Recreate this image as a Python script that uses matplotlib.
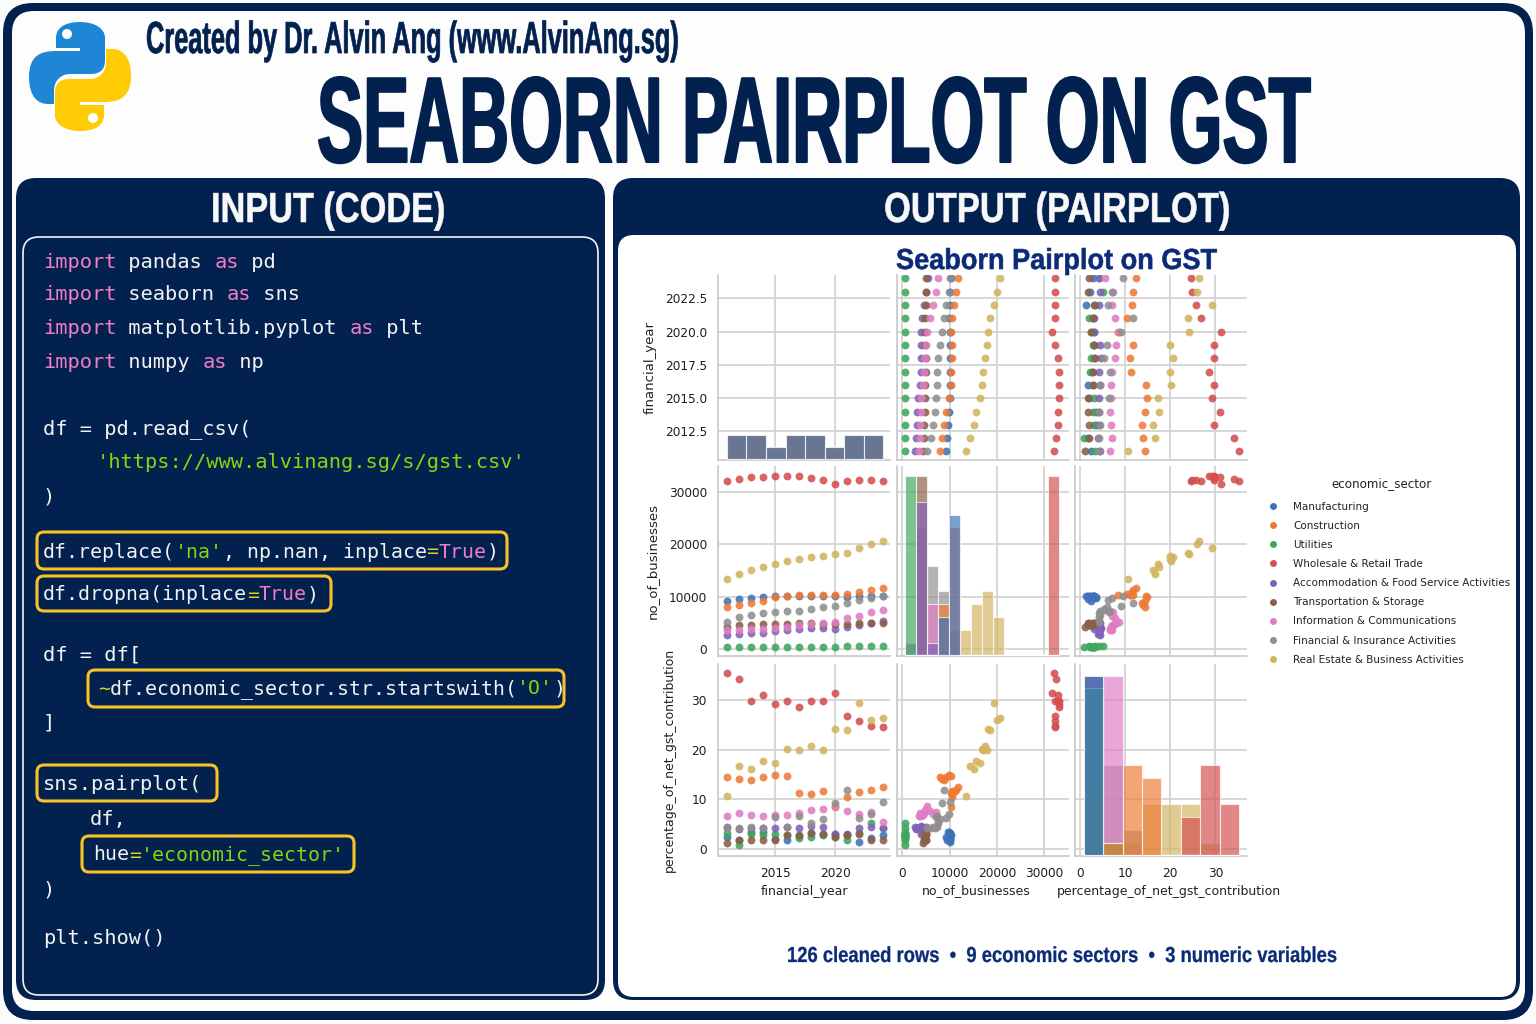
import numpy as np
import matplotlib
matplotlib.use("Agg")
import matplotlib.pyplot as plt
from matplotlib.patches import FancyBboxPatch, PathPatch, Circle
from matplotlib.path import Path
from matplotlib.patheffects import AbstractPathEffect
from matplotlib.transforms import Affine2D
from matplotlib.lines import Line2D

W, H = 1536, 1024
NAVY = "#03214f"

years = list(range(2011, 2025))
sectors = ["Manufacturing", "Construction", "Utilities", "Wholesale & Retail Trade",
           "Accommodation & Food Service Activities", "Transportation & Storage",
           "Information & Communications", "Financial & Insurance Activities",
           "Real Estate & Business Activities"]
colors = ["#3d72b8", "#ee7a35", "#3fa65a", "#d34f50", "#8062b8", "#8a5f45", "#e07cc4", "#8f8f8f", "#d2b45f"]

businesses = [
    [9100, 9490, 9680, 9940, 10060, 10060, 10060, 10060, 10060, 10060, 9940, 10060, 10120, 10190],
    [8030, 8340, 8730, 9240, 9940, 10190, 10320, 10380, 10380, 10320, 10570, 10960, 11270, 11720],
    [440, 440, 450, 450, 450, 450, 450, 450, 460, 450, 500, 500, 500, 560],
    [32040, 32420, 32870, 32870, 33180, 33060, 33000, 32800, 32290, 31650, 32160, 32290, 32230, 32160],
    [2610, 2800, 3000, 3120, 3370, 3630, 3820, 3950, 4010, 3820, 4200, 4500, 4900, 5300],
    [4300, 4500, 4600, 4700, 4800, 4800, 4900, 4900, 4800, 4800, 4700, 4900, 5000, 5000],
    [3600, 3700, 3800, 3900, 4000, 4300, 4500, 4700, 5000, 5100, 5860, 6370, 7000, 7450],
    [5220, 6050, 6560, 6820, 7070, 7200, 7320, 7580, 7960, 8280, 8730, 9300, 9800, 10060],
    [13380, 14270, 15160, 15600, 16310, 16780, 17130, 17520, 17830, 18090, 18410, 19360, 20000, 20700],
]
gst_share = [
    [2.5, 1.8, 3.5, 3.5, 2.0, 1.8, 2.7, 3.2, 3.1, 3.1, 2.8, 1.4, 2.3, 2.8],
    [14.4, 14.0, 13.8, 14.4, 14.8, 14.6, 11.3, 11.0, 11.7, 8.5, 10.5, 11.5, 11.8, 12.4],
    [3.3, 0.8, 3.1, 2.9, 3.0, 2.8, 2.2, 2.4, 2.9, 2.4, 1.9, 3.3, 5.15, 4.3],
    [35.3, 34.2, 29.8, 31.0, 29.2, 29.7, 28.6, 29.7, 29.7, 31.3, 26.7, 25.7, 24.8, 24.5],
    [4.4, 4.1, 4.2, 4.2, 4.3, 4.4, 4.3, 4.6, 4.5, 3.0, 3.0, 4.3, 4.5, 4.3],
    [1.2, 1.9, 1.9, 1.8, 1.8, 2.8, 2.9, 3.3, 3.0, 2.4, 2.9, 3.1, 1.8, 1.9],
    [6.7, 7.2, 6.9, 6.6, 6.8, 6.8, 7.2, 7.8, 8.0, 8.6, 7.7, 7.1, 7.4, 5.5],
    [4.3, 4.3, 4.5, 4.2, 6.4, 4.5, 6.7, 5.3, 6.0, 9.2, 11.8, 6.2, 7.0, 9.45],
    [10.6, 16.7, 16.1, 17.6, 17.2, 20.2, 20.0, 20.7, 19.9, 24.1, 23.9, 29.3, 26.0, 26.3],
]
var_names = ["financial_year", "no_of_businesses", "percentage_of_net_gst_contribution"]
hist_bins = [8, 14, 8]

WIDE, TIGHT = 12.25, 11.98
code_lines = [
    (262, 43, WIDE, [("import", "k"), (" pandas ", "t"), ("as", "k"), (" pd", "t")]),
    (295, 43, WIDE, [("import", "k"), (" seaborn ", "t"), ("as", "k"), (" sns", "t")]),
    (329, 43, WIDE, [("import", "k"), (" matplotlib.pyplot ", "t"), ("as", "k"), (" plt", "t")]),
    (363, 43, WIDE, [("import", "k"), (" numpy ", "t"), ("as", "k"), (" np", "t")]),
    (429, 43, WIDE, [("df = pd.read_csv(", "t")]),
    (463, 97, WIDE, [("'https://www.alvinang.sg/s/gst.csv'", "s")]),
    (497, 43, WIDE, [(")", "t")]),
    (552, 43, TIGHT, [("df.replace(", "t"), ("'na'", "s"), (", np.nan, inplace", "t"), ("=", "o"), ("True", "k"), (")", "t")]),
    (595, 43, TIGHT, [("df.dropna(inplace", "t"), ("=", "o"), ("True", "k"), (")", "t")]),
    (655, 43, WIDE, [("df = df[", "t")]),
    (689, 98, TIGHT, [("~", "o"), ("df.economic_sector.str.startswith(", "t"), ("'O'", "s"), (")", "t")]),
    (723, 43, WIDE, [("]", "t")]),
    (784, 43, WIDE, [("sns.pairplot(", "t")]),
    (820, 90, WIDE, [("df,", "t")]),
    (855, 93, TIGHT, [("hue", "t"), ("=", "o"), ("'economic_sector'", "s")]),
    (890, 43, WIDE, [(")", "t")]),
    (938, 43, WIDE, [("plt.show()", "t")]),
]
code_colors = {"k": "#ee7cc6", "t": "#f2f2f2", "s": "#86d40f", "o": "#e3cf1e"}
highlights = [(37, 532, 507, 569), (37, 576, 331, 611), (88, 670, 564, 707),
              (37, 765, 217, 801), (82, 836, 354, 872)]


class Stretch(AbstractPathEffect):
    """Draw a text taller about its baseline, and optionally heavier."""
    def __init__(self, base_px, sy, stroke=0.0):
        super().__init__()
        self.y0, self.sy, self.stroke = H - base_px, sy, stroke

    def draw_path(self, renderer, gc, tpath, affine, rgbFace=None):
        a = affine + Affine2D().translate(0, -self.y0).scale(1, self.sy).translate(0, self.y0)
        g = renderer.new_gc()
        g.copy_properties(gc)
        if self.stroke:
            g.set_linewidth(self.stroke)
            g.set_foreground(rgbFace)
        else:
            g.set_linewidth(0)
        renderer.draw_path(g, tpath, a, rgbFace)
        g.restore()


plt.rcParams["font.family"] = ["DejaVu Sans"]
fig = plt.figure(figsize=(W / 100, H / 100), dpi=100, facecolor="#fbfbfb")
bg = fig.add_axes([0, 0, 1, 1])
bg.set_xlim(0, W)
bg.set_ylim(H, 0)
bg.axis("off")
rend = fig.canvas.get_renderer()


def rbox(x0, y0, x1, y1, r, fc, ec="none", lw=0, z=1):
    bg.add_patch(FancyBboxPatch((x0 + r, y0 + r), x1 - x0 - 2 * r, y1 - y0 - 2 * r,
                                boxstyle=f"round,pad={r},rounding_size={r}",
                                fc=fc, ec=ec, lw=lw, zorder=z))


rbox(3, 3, 1533, 1020, 30, NAVY)
rbox(12, 11, 1525, 1011, 22, "#fdfdfd", z=2)
rbox(16, 178, 605, 1000, 20, NAVY, z=3)
rbox(613, 178, 1520, 1000, 20, NAVY, z=3)
rbox(23, 237, 598, 995, 16, NAVY, ec="#f4f4f4", lw=1.2, z=4)
rbox(618, 235, 1516, 997, 16, "#ffffff", z=4)


def head(x0, x1, base, s, cap, color, stroke=0.0):
    t = bg.text(x0, base, s, fontsize=20, family="Liberation Sans", weight="bold", color=color,
                ha="left", va="baseline", zorder=6)
    size = 20 * (x1 - x0) / t.get_window_extent(rend).width
    t.set_fontsize(size)
    t.set_path_effects([Stretch(base, cap / (size * 100 / 72 * 0.69), stroke)])


head(146, 678, 53, "Created by Dr. Alvin Ang (www.AlvinAng.sg)", 31, NAVY, 0.5)
head(317, 1310, 162, "SEABORN PAIRPLOT ON GST", 84, NAVY, 1.5)
head(211, 445, 222, "INPUT (CODE)", 29, "#f8f8f8", 0.4)
head(884, 1230, 222, "OUTPUT (PAIRPLOT)", 29, "#f8f8f8", 0.4)
head(787, 1337, 962, "126 cleaned rows  \u2022  9 economic sectors  \u2022  3 numeric variables", 15, "#0b2a78", 0.2)
head(896, 1217, 269, "Seaborn Pairplot on GST", 20, "#0b2a78", 0.4)

# Python logo
V = [(105, 38), (105, 28), (94, 22), (80, 22), (66, 22), (56, 27), (56, 38),
     (56, 48), (80, 48), (80, 51), (56, 51), (40, 51), (29, 56), (29, 77), (29, 97), (38, 104), (48, 104),
     (54, 104), (54, 90), (54, 82), (60, 74), (70, 74), (90, 74), (100, 74), (105, 70), (105, 60), (105, 38)]
C = [Path.MOVETO, Path.CURVE4, Path.CURVE4, Path.CURVE4, Path.CURVE4, Path.CURVE4, Path.CURVE4,
     Path.LINETO, Path.LINETO, Path.LINETO, Path.LINETO, Path.CURVE4, Path.CURVE4, Path.CURVE4, Path.CURVE4, Path.CURVE4, Path.CURVE4,
     Path.LINETO, Path.LINETO, Path.CURVE4, Path.CURVE4, Path.CURVE4, Path.LINETO, Path.CURVE4, Path.CURVE4, Path.CURVE4, Path.LINETO]
bg.add_patch(PathPatch(Path(V, C), fc="#1f86d6", ec="none", zorder=6))
V2 = [(160 - x, 153 - y) for x, y in V]
bg.add_patch(PathPatch(Path(V2, C), fc="#ffcb05", ec="none", zorder=6))
bg.add_patch(Circle((67, 34), 5, fc="white", ec="none", zorder=7))
bg.add_patch(Circle((93, 118), 5, fc="white", ec="none", zorder=7))

# code panel
for y, x0, pitch, toks in code_lines:
    col = 0
    for s, kind in toks:
        bg.text(x0 + col * pitch, y, s, family="DejaVu Sans Mono", fontsize=pitch / 0.602 * 0.72, color=code_colors[kind],
                ha="left", va="center", zorder=6)
        col += len(s)
for x0, y0, x1, y1 in highlights:
    rbox(x0, y0, x1, y1, 7, "none", ec="#f7c325", lw=2.2, z=5)

# pair grid
col_px = [(718, 890), (897, 1069), (1075, 1247)]
row_px = [(275, 460), (466, 656), (664, 856)]
xlims = [(2010.27, 2024.54), (-1150, 35200), (-1.1, 37.0)]
ylims = [(2010.36, 2024.25), (-1340, 35000), (-1.4, 37.2)]
xticks = [[2015, 2020], [0, 10000, 20000, 30000], [0, 10, 20, 30]]
yticks = [[2012.5, 2015.0, 2017.5, 2020.0, 2022.5], [0, 10000, 20000, 30000], [0, 10, 20, 30]]
xlabel_cx = [804, 976, 1169]
ylabel_x = [650, 652, 669]
ylabel_size = [9.5, 9.5, 9.0]
GRID = "#d4d4d4"
tops = [15.4, 14.8, 14.9]
series = [[years] * 9, businesses, gst_share]

for r, (ry0, ry1) in enumerate(row_px):
    for c, (cx0, cx1) in enumerate(col_px):
        ax = fig.add_axes([cx0 / W, 1 - ry1 / H, (cx1 - cx0) / W, (ry1 - ry0) / H], facecolor="none", zorder=5)
        ax.set_xlim(*xlims[c])
        ax.set_ylim(*ylims[r])
        ax.set_xticks(xticks[c])
        ax.set_yticks(yticks[r])
        ax.grid(True, color=GRID, lw=1.3)
        ax.set_axisbelow(True)
        for sp in ("top", "right"):
            ax.spines[sp].set_visible(False)
        for sp in ("left", "bottom"):
            ax.spines[sp].set_color("#c8c8c8")
            ax.spines[sp].set_linewidth(1.2)
        ax.tick_params(length=0, labelsize=8.7, colors="#1e1e1e", pad=8,
                       labelbottom=r == 2, labelleft=c == 0)
        if c == 0:
            ax.set_ylabel(var_names[r], fontsize=ylabel_size[r], color="#222222", va="center")
            ax.yaxis.set_label_coords((ylabel_x[r] - cx0) / (cx1 - cx0), 0.5)
        if r == 2:
            ax.set_xlabel(var_names[c], fontsize=9.0, color="#222222", va="center")
            ax.xaxis.set_label_coords((xlabel_cx[c] - cx0) / (cx1 - cx0), (ry1 - 891) / (ry1 - ry0))
        if r == c:
            tw = ax.twinx()
            tw.set_ylim(-0.05, tops[r])
            tw.axis("off")
            edges = np.histogram_bin_edges(np.ravel(series[c]), bins=hist_bins[c])
            for i in range(8, -1, -1):
                tw.hist(series[c][i], bins=edges, color=colors[i], alpha=0.68, edgecolor="white", linewidth=0.8)
        else:
            for i in range(9):
                ax.scatter(series[c][i], series[r][i], s=32, color=colors[i], alpha=0.88, linewidths=0, zorder=3)

handles = [Line2D([], [], ls="none", marker="o", ms=5, mew=0, color=col) for col in colors]
leg = fig.legend(handles, sectors, loc="upper left",
                 bbox_to_anchor=(1266.5 / W, 1 - 501.5 / H), bbox_transform=fig.transFigure,
                 frameon=False, fontsize=7.5, labelspacing=0.88,
                 handletextpad=1.3, handlelength=1.25, borderpad=0, borderaxespad=0)
for t in leg.get_texts():
    t.set_color("#222222")
leg.set_zorder(8)
bg.text(1381, 484, "economic_sector", fontsize=8.6, color="#222222", ha="center", va="center", zorder=6)

fig.savefig("out.png", dpi=100, facecolor=fig.get_facecolor())
